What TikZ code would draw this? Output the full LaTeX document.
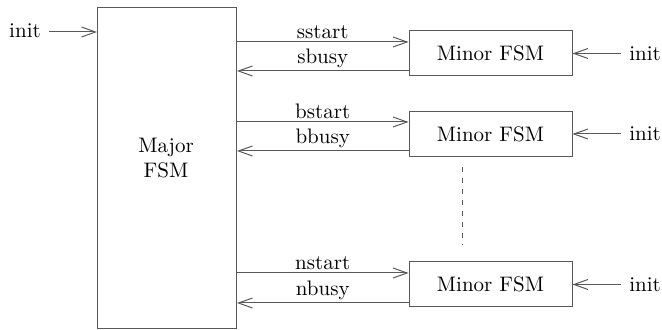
\documentclass[tikz,border=0pt]{standalone}
\usetikzlibrary{arrows.meta}
\begin{document}
\begin{tikzpicture}[x=0.5pt,y=-0.5pt,
  every node/.style={font=\fontsize{10.5}{12.5}\selectfont, inner sep=1pt},
  box/.style={draw=black!65, line width=0.5pt},
  wire/.style={draw=black!65, line width=0.5pt},
  sig/.style={wire, -{Straight Barb[length=7pt,width=5pt,line width=0.5pt]}},
  lab/.style={above, inner sep=1.5pt}]
\useasboundingbox (0,0) rectangle (662,330);
% major box
\node[box, minimum width=69.5pt, minimum height=160.5pt, anchor=north west] (major) at (97,7) {};
\node[align=center] (majortxt) at (166,158) {Major\\FSM};
% minor boxes
\node[box, minimum width=81.5pt, minimum height=22.5pt] (m1) at (490.5,53.5) {Minor FSM};
\node[box, minimum width=81.5pt, minimum height=22.5pt] (m2) at (490.5,134) {Minor FSM};
\node[box, minimum width=81.5pt, minimum height=22.5pt] (m3) at (490.5,284.5) {Minor FSM};
% init inputs
\node (initL) at (25,31) {init};
\draw[sig] (initL.east |- 0,32) ++(6,0) -- (major.west |- 0,32);
\node (init1) at (645,53.5) {init};
\node (init2) at (645,134) {init};
\node (init3) at (645,284.5) {init};
\draw[sig] (init1.west) ++(-6,0) -- (m1.east);
\draw[sig] (init2.west) ++(-6,0) -- (m2.east);
\draw[sig] (init3.west) ++(-6,0) -- (m3.east);
% signals
\draw[sig] (major.east |- 0,42) -- node[lab] {sstart} (m1.west |- 0,42);
\draw[sig] (m1.west |- 0,71) -- node[lab] {sbusy} (major.east |- 0,71);
\draw[sig] (major.east |- 0,122) -- node[lab] {bstart} (m2.west |- 0,122);
\draw[sig] (m2.west |- 0,151) -- node[lab] {bbusy} (major.east |- 0,151);
\draw[sig] (major.east |- 0,273) -- node[lab] {nstart} (m3.west |- 0,273);
\draw[sig] (m3.west |- 0,303) -- node[lab] {nbusy} (major.east |- 0,303);
% dots
\coordinate (d1) at (462,167);
\coordinate (d2) at (462,245);
\draw[wire, dash pattern=on 2.5pt off 3pt] (d1) -- (d2);
\end{tikzpicture}
\end{document}
